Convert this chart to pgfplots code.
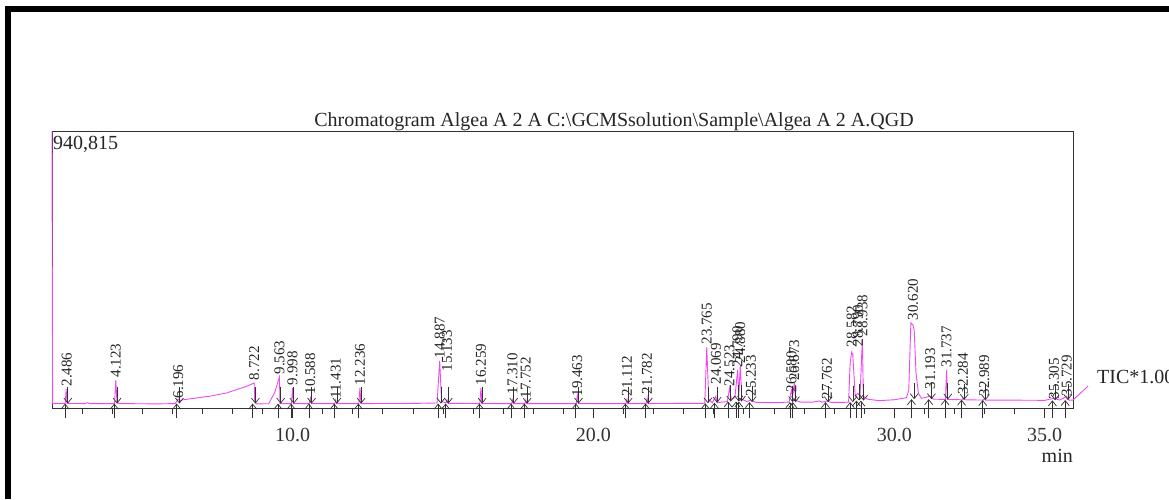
\documentclass[border=0pt]{standalone}
\usepackage{fontspec}
\setmainfont{Liberation Serif}
\usepackage{pgfplots}
\pgfplotsset{compat=1.18}
\usetikzlibrary{arrows.meta}
\definecolor{pk}{RGB}{242,72,242}
\definecolor{fr}{RGB}{50,50,50}
\tikzset{mk/.style={draw=fr,line width=0.7pt,-{Straight Barb[length=5pt,width=8pt]}}}
% \pk{time}{label bottom}{baseline}
\newcommand\pk[3]{%
  \draw[mk] (axis cs:#1-0.05,-34000) -- (axis cs:#1-0.05,#3);
  \draw[mk] (axis cs:#1+0.04,#3+55000) -- (axis cs:#1+0.04,#3);
  \node[rotate=90,anchor=west,inner sep=0.5pt,font=\fontsize{15}{15}\selectfont,text=black!85] at (axis cs:#1,#2) {#1};
}
\begin{document}
\begin{tikzpicture}[x=1pt,y=1pt]
\useasboundingbox (0,0) rectangle (1169,499);
\fill[white] (0,0) rectangle (1169,499);
\fill[black] (5,0) rectangle (11,493);
\fill[black] (5,487) rectangle (1169,493);
\begin{axis}[
  at={(52pt,91pt)}, anchor=south west, scale only axis,
  width=1021pt, height=277pt,
  xmin=2, xmax=35.94, ymin=0, ymax=940815,
  xtick={10,20,30,35}, xticklabels={10.0,20.0,30.0,35.0},
  minor xtick={3,4,...,35},
  ytick=\empty, xtick pos=bottom, tick align=outside,
  major tick length=10pt, minor tick length=6pt,
  axis line style={draw=fr,line width=0.9pt},
  tick style={draw=fr,line width=0.9pt},
  clip=false,
  ticklabel style={font=\fontsize{20}{20}\selectfont,text=black!80},
  xticklabel style={yshift=-7pt},
]
\addplot[pk,line width=0.9pt] coordinates {
(2.00,940815)(2.02,15000)(2.44,15500)(2.47,64500)(2.50,15500)
(3.10,15000)(3.18,18000)(3.25,15000)
(4.08,15000)(4.12,95000)(4.16,18000)(4.25,15000)
(5.5,14000)(6.10,15000)(6.19,30000)(6.25,24000)
(6.3,27000)(6.8,34000)(7.3,41000)(7.8,51000)(8.2,64500)(8.5,75000)(8.72,85000)
(8.74,20000)(8.80,14000)(9.20,14500)(9.40,52000)(9.50,85000)(9.56,105000)(9.58,15000)
(9.96,15000)(9.998,68000)(10.03,15000)
(10.55,15000)(10.59,34000)(10.62,15000)
(11.40,15000)(11.43,27000)(11.46,15000)
(12.20,15000)(12.236,68000)(12.27,15000)
(14.0,15500)(14.80,17000)(14.887,160000)(14.95,22000)(15.10,17000)(15.133,27000)(15.17,16000)
(16.22,15000)(16.259,68000)(16.29,15000)
(17.28,15000)(17.31,27000)(17.34,15000)
(17.72,15000)(17.752,27000)(17.78,15000)
(19.43,15000)(19.463,44000)(19.50,15000)
(21.08,15000)(21.112,30000)(21.14,15000)
(21.75,15000)(21.782,34000)(21.81,15000)
(23.70,16000)(23.765,207000)(23.83,30000)(23.95,18000)(24.069,40000)(24.10,18000)
(24.45,22000)(24.523,68000)(24.58,30000)(24.70,35000)(24.79,129000)(24.83,40000)(24.88,146000)(24.93,30000)
(25.1,22000)(25.233,27000)(25.4,19000)
(26.0,18000)(26.50,20000)(26.58,60000)(26.62,40000)(26.673,85000)(26.72,25000)(26.9,20000)
(27.3,20000)(27.5,24000)(27.6,20000)(27.762,24000)(27.9,19000)(28.3,19000)
(28.48,20000)(28.53,150000)(28.582,190000)(28.62,180000)(28.70,40000)(28.79,50000)(28.86,40000)(28.938,235000)(28.97,40000)
(29.1,30000)(29.5,25000)(30.0,28000)(30.4,35000)(30.48,60000)(30.55,289000)(30.62,282000)(30.66,265000)(30.72,120000)(30.80,50000)(30.9,33000)
(31.193,40000)(31.3,30000)(31.70,29000)(31.737,129000)(31.77,29000)
(32.25,28000)(32.284,33000)(32.32,28000)(32.95,27000)(32.989,31000)(33.03,27000)
(33.5,27000)(35.0,26000)(35.305,33000)(35.5,27000)(35.729,40000)(35.8,27000)(35.94,27000)(36.44,74700)
};
\pk{2.486}{71500}{15000}
\pk{4.123}{102000}{15000}
\pk{6.196}{30000}{15000}
\pk{8.722}{92000}{15000}
\pk{9.563}{112000}{15000}
\pk{9.998}{75000}{15000}
\pk{10.588}{44000}{15000}
\pk{11.431}{30000}{15000}
\pk{12.236}{75000}{15000}
\pk{14.887}{167000}{15000}
\pk{15.133}{122000}{15000}
\pk{16.259}{75000}{15000}
\pk{17.310}{44000}{15000}
\pk{17.752}{30000}{15000}
\pk{19.463}{37000}{15000}
\pk{21.112}{37000}{15000}
\pk{21.782}{44000}{15000}
\pk{23.765}{214000}{16000}
\pk{24.069}{78000}{18000}
\pk{24.523}{72000}{22000}
\pk{24.790}{136000}{22000}
\pk{24.880}{150000}{22000}
\pk{25.233}{37000}{20000}
\pk{26.580}{51000}{20000}
\pk{26.673}{90000}{20000}
\pk{27.762}{27000}{20000}
\pk{28.582}{204000}{20000}
\pk{28.790}{208000}{25000}
\pk{28.938}{242000}{25000}
\pk{30.620}{296000}{30000}
\pk{31.193}{61000}{30000}
\pk{31.737}{136000}{29000}
\pk{32.284}{44000}{28000}
\pk{32.989}{37000}{27000}
\pk{35.305}{27000}{26000}
\pk{35.729}{37000}{27000}
\end{axis}
\node[anchor=base,inner sep=0pt,font=\fontsize{20}{20}\selectfont,text=black!85] at (614,372) {Chromatogram Algea A 2 A C:\textbackslash GCMSsolution\textbackslash Sample\textbackslash Algea A 2 A.QGD};
\node[anchor=base west,inner sep=0pt,font=\fontsize{20}{20}\selectfont,text=black!85] at (53,349) {940,815};
\node[anchor=base east,inner sep=0pt,font=\fontsize{20}{20}\selectfont,text=black!85] at (1073,37) {min};
\node[anchor=base west,inner sep=0pt,font=\fontsize{20}{20}\selectfont,text=black!85] at (1097,116) {TIC*1.00};
\end{tikzpicture}
\end{document}
